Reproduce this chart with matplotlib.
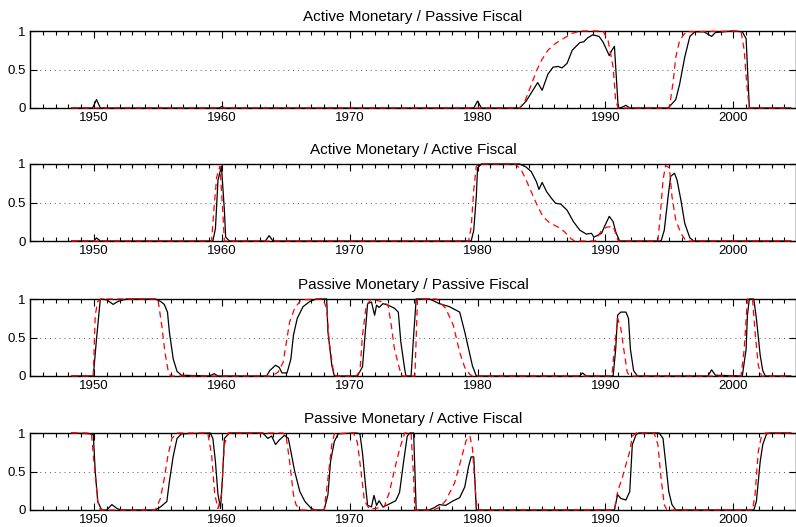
import matplotlib
matplotlib.use('Agg')
import matplotlib.pyplot as plt
from matplotlib.ticker import MultipleLocator

plt.rcParams['font.family'] = ['Liberation Sans', 'DejaVu Sans']

titles = ['Active Monetary / Passive Fiscal',
          'Active Monetary / Active Fiscal',
          'Passive Monetary / Passive Fiscal',
          'Passive Monetary / Active Fiscal']

# (year, probability); black = smoothed, red = filtered
am_pf_smoothed = [(1948.25, 0), (1949.9, 0), (1950.2, 0.11), (1950.5, 0), (1959.8, 0), (1960.0, 0.02),
                  (1960.2, 0), (1979.7, 0), (1980.0, 0.09), (1980.3, 0), (1983.3, 0), (1983.8, 0.09),
                  (1984.7, 0.33), (1985.05, 0.23), (1985.5, 0.44), (1985.9, 0.53), (1986.3, 0.54),
                  (1986.6, 0.52), (1987.0, 0.58), (1987.4, 0.75), (1988.0, 0.85), (1988.3, 0.86),
                  (1988.6, 0.91), (1989.0, 0.95), (1989.5, 0.93), (1989.8, 0.86), (1990.3, 0.68),
                  (1990.5, 0.75), (1990.7, 0.80), (1991.0, 0), (1991.3, 0.01), (1991.6, 0.035),
                  (1991.9, 0), (1994.9, 0), (1995.5, 0.11), (1995.8, 0.31), (1996.2, 0.66),
                  (1996.6, 0.93), (1997.0, 0.99), (1997.7, 0.99), (1998.3, 0.93), (1998.6, 0.98),
                  (1999.9, 1.0), (2000.7, 0.99), (2001.0, 0.90), (2001.25, 0), (2004.5, 0)]
am_pf_filtered = [(1948.25, 0), (1983.3, 0), (1983.7, 0.09), (1984.1, 0.26), (1984.6, 0.48),
                  (1985.0, 0.62), (1985.5, 0.75), (1986.1, 0.84), (1986.7, 0.90), (1987.4, 0.97),
                  (1988.1, 1), (1989.8, 1), (1990.2, 0.88), (1990.6, 0.53), (1990.8, 0.09),
                  (1991.0, 0), (1995.0, 0), (1995.3, 0.35), (1995.5, 0.66), (1995.8, 0.88),
                  (1996.3, 0.99), (2000.6, 1), (2000.85, 0.75), (2001.05, 0.31), (2001.25, 0),
                  (2004.5, 0)]

am_af_smoothed = [(1948.25, 0), (1950.0, 0), (1950.2, 0.04), (1950.5, 0), (1959.3, 0), (1959.5, 0.16),
                  (1959.7, 0.79), (1959.97, 0.97), (1960.2, 0.40), (1960.3, 0.05), (1960.6, 0),
                  (1963.4, 0), (1963.7, 0.07), (1964.0, 0), (1979.5, 0), (1979.7, 0.14), (1979.9, 0.58),
                  (1980.0, 0.95), (1980.3, 1), (1983.3, 1), (1983.8, 0.96), (1984.2, 0.90),
                  (1984.6, 0.77), (1984.8, 0.67), (1985.05, 0.76), (1985.4, 0.64), (1985.8, 0.55),
                  (1986.1, 0.49), (1986.5, 0.48), (1987.0, 0.40), (1987.5, 0.25), (1988.0, 0.14),
                  (1988.5, 0.09), (1988.9, 0.10), (1989.1, 0.05), (1989.7, 0.10), (1989.9, 0.18),
                  (1990.3, 0.32), (1990.6, 0.25), (1990.8, 0.12), (1991.1, 0), (1994.35, 0),
                  (1994.6, 0.14), (1994.9, 0.58), (1995.1, 0.84), (1995.4, 0.88), (1995.6, 0.79),
                  (1995.9, 0.53), (1996.2, 0.23), (1996.6, 0.04), (1996.9, 0), (2004.5, 0)]
am_af_filtered = [(1948.25, 0), (1959.2, 0), (1959.4, 0.45), (1959.6, 0.83), (1959.85, 0.97),
                  (1960.05, 0.45), (1960.2, 0), (1979.3, 0), (1979.5, 0.18), (1979.7, 0.66),
                  (1979.9, 0.97), (1980.1, 1), (1982.9, 1), (1983.4, 0.93), (1983.8, 0.79),
                  (1984.3, 0.60), (1984.7, 0.45), (1985.1, 0.32), (1985.6, 0.24), (1986.3, 0.18),
                  (1986.8, 0.12), (1987.3, 0.03), (1987.6, 0), (1989.2, 0), (1989.3, 0.03),
                  (1989.7, 0.14), (1990.1, 0.18), (1990.6, 0.19), (1990.8, 0.10), (1991.0, 0),
                  (1994.1, 0), (1994.3, 0.36), (1994.5, 0.79), (1994.7, 0.98), (1995.0, 0.95),
                  (1995.2, 0.58), (1995.5, 0.27), (1995.9, 0.10), (1996.3, 0), (2004.5, 0)]

pm_pf_smoothed = [(1948.25, 0), (1949.95, 0), (1950.2, 0.48), (1950.5, 1), (1951.0, 0.99), (1951.5, 0.93),
                  (1951.9, 0.97), (1952.55, 1), (1954.8, 1), (1955.2, 0.97), (1955.5, 0.93),
                  (1955.75, 0.83), (1955.9, 0.57), (1956.2, 0.22), (1956.5, 0.06), (1956.85, 0.01),
                  (1959.0, 0), (1959.4, 0.03), (1959.7, 0), (1963.5, 0), (1963.75, 0.07),
                  (1964.2, 0.14), (1964.5, 0.11), (1964.7, 0.04), (1965.1, 0.04), (1965.4, 0.22),
                  (1965.6, 0.53), (1965.9, 0.75), (1966.35, 0.90), (1966.9, 0.97), (1967.4, 1),
                  (1968.2, 1), (1968.3, 0.57), (1968.6, 0.14), (1968.8, 0), (1970.6, 0),
                  (1971.0, 0.12), (1971.2, 0.53), (1971.4, 0.94), (1971.7, 0.96), (1971.95, 0.79),
                  (1972.1, 0.92), (1972.3, 0.89), (1972.6, 0.94), (1973.0, 0.92), (1973.5, 0.88),
                  (1973.8, 0.83), (1974.0, 0.44), (1974.3, 0.09), (1974.4, 0), (1974.8, 0),
                  (1975.0, 0.53), (1975.2, 1), (1976.25, 1), (1977.0, 0.94), (1977.8, 0.90),
                  (1978.6, 0.83), (1979.0, 0.57), (1979.3, 0.35), (1979.6, 0.13), (1979.9, 0),
                  (1988.0, 0), (1988.2, 0.04), (1988.5, 0), (1990.6, 0), (1990.8, 0.35),
                  (1990.95, 0.79), (1991.2, 0.83), (1991.6, 0.83), (1991.8, 0.75), (1991.95, 0.35),
                  (1992.2, 0.07), (1992.5, 0), (1998.0, 0), (1998.3, 0.08), (1998.6, 0.01),
                  (2000.7, 0), (2001.0, 0.35), (2001.1, 0.79), (2001.25, 1), (2001.6, 1),
                  (2001.8, 0.75), (2002.1, 0.27), (2002.3, 0.07), (2002.5, 0), (2004.5, 0)]
pm_pf_filtered = [(1948.25, 0), (1949.95, 0), (1950.1, 0.79), (1950.3, 0.97), (1950.6, 1), (1955.0, 1),
                  (1955.3, 0.66), (1955.55, 0.31), (1955.8, 0.07), (1956.0, 0), (1963.9, 0),
                  (1964.4, 0.05), (1964.8, 0.18), (1965.05, 0.44), (1965.3, 0.70), (1965.7, 0.88),
                  (1966.2, 0.99), (1967.9, 1), (1968.2, 0.88), (1968.4, 0.44), (1968.7, 0.09),
                  (1968.9, 0), (1970.5, 0), (1970.8, 0.06), (1971.0, 0.53), (1971.3, 0.92),
                  (1971.7, 1), (1972.6, 0.96), (1973.0, 0.92), (1973.25, 0.66), (1973.5, 0.35),
                  (1973.9, 0.09), (1974.1, 0), (1975.1, 0), (1975.3, 1), (1976.8, 1),
                  (1977.5, 0.88), (1978.1, 0.66), (1978.6, 0.31), (1979.0, 0.11), (1979.4, 0.02),
                  (1979.6, 0), (1990.5, 0), (1990.7, 0.35), (1990.95, 0.75), (1991.2, 0.62),
                  (1991.5, 0.27), (1991.7, 0.05), (1991.9, 0), (2000.6, 0), (2000.85, 0.35),
                  (2001.1, 1), (2001.5, 1), (2001.7, 0.57), (2001.95, 0.14), (2002.2, 0), (2004.5, 0)]

pm_af_smoothed = [(1948.25, 1), (1949.7, 0.99), (1949.95, 0.98), (1950.1, 0.5), (1950.3, 0.11),
                  (1950.6, 0), (1951.0, 0), (1951.4, 0.07), (1951.8, 0.02), (1952.1, 0), (1954.8, 0),
                  (1955.2, 0.04), (1955.7, 0.11), (1955.9, 0.37), (1956.2, 0.70), (1956.5, 0.93),
                  (1956.85, 0.99), (1959.1, 1), (1959.3, 0.93), (1959.5, 0.63), (1959.7, 0.20),
                  (1959.9, 0.02), (1960.05, 0.41), (1960.2, 0.93), (1960.6, 1), (1963.2, 1),
                  (1963.6, 0.93), (1963.9, 0.96), (1964.2, 0.85), (1964.5, 0.91), (1964.9, 0.97),
                  (1965.2, 0.93), (1965.4, 0.76), (1965.7, 0.5), (1966.1, 0.24), (1966.5, 0.11),
                  (1967.0, 0.02), (1967.3, 0), (1968.0, 0), (1968.3, 0.2), (1968.5, 0.63),
                  (1968.8, 0.89), (1969.1, 0.99), (1970.5, 1), (1970.8, 0.99), (1971.0, 0.74),
                  (1971.25, 0.3), (1971.4, 0.06), (1971.7, 0.04), (1971.9, 0.19), (1972.1, 0.06),
                  (1972.3, 0.12), (1972.6, 0.04), (1973.0, 0.07), (1973.6, 0.12), (1973.9, 0.23),
                  (1974.2, 0.61), (1974.5, 0.96), (1974.7, 1), (1975.0, 1), (1975.2, 0),
                  (1976.2, 0), (1976.6, 0.03), (1977.0, 0.07), (1977.5, 0.06), (1978.1, 0.12),
                  (1978.6, 0.16), (1979.0, 0.3), (1979.3, 0.57), (1979.5, 0.69), (1979.7, 0.69),
                  (1979.9, 0), (1990.7, 0),
                  (1990.95, 0.2), (1991.2, 0.15), (1991.6, 0.13), (1991.9, 0.24), (1992.1, 0.85),
                  (1992.4, 0.98), (1992.6, 1), (1994.2, 1), (1994.5, 0.93), (1994.7, 0.63),
                  (1994.95, 0.24), (1995.2, 0.07), (1995.5, 0), (2001.6, 0), (2001.8, 0.11),
                  (2002.1, 0.63), (2002.3, 0.85), (2002.6, 0.99), (2002.9, 1), (2004.5, 1)]
pm_af_filtered = [(1948.25, 1), (1949.8, 1), (1950.0, 0.63), (1950.3, 0.11), (1950.5, 0), (1954.8, 0),
                  (1955.2, 0.15), (1955.5, 0.41), (1955.8, 0.72), (1956.1, 0.93), (1956.5, 1),
                  (1958.9, 1), (1959.2, 0.72), (1959.45, 0.2), (1959.7, 0.02), (1959.97, 0.2),
                  (1960.2, 0.85), (1960.5, 1), (1964.8, 1), (1965.05, 0.93), (1965.3, 0.63),
                  (1965.6, 0.2), (1965.8, 0.07), (1966.1, 0), (1968.0, 0), (1968.3, 0.41),
                  (1968.6, 0.85), (1968.8, 0.99), (1970.3, 1), (1970.6, 0.88), (1970.9, 0.48),
                  (1971.15, 0.12), (1971.55, 0.01), (1972.7, 0.04), (1973.1, 0.23), (1973.5, 0.52),
                  (1973.9, 0.79), (1974.3, 1), (1974.8, 1), (1975.0, 0.41), (1975.1, 0),
                  (1976.5, 0), (1977.0, 0.03), (1977.5, 0.12), (1978.2, 0.35), (1978.7, 0.65),
                  (1979.1, 0.9), (1979.4, 0.96), (1979.6, 0.8), (1979.9, 0.1), (1980.0, 0),
                  (1990.7, 0), (1990.95, 0.24), (1991.3, 0.41), (1991.6, 0.59),
                  (1991.9, 0.76), (1992.1, 0.96), (1992.4, 1), (1993.8, 1), (1994.1, 0.85),
                  (1994.35, 0.41), (1994.6, 0.07), (1994.8, 0), (2001.5, 0), (2001.7, 0.2),
                  (2001.95, 0.76), (2002.2, 0.96), (2002.5, 1), (2004.5, 1)]

smoothed = [am_pf_smoothed, am_af_smoothed, pm_pf_smoothed, pm_af_smoothed]
filtered = [am_pf_filtered, am_af_filtered, pm_pf_filtered, pm_af_filtered]

fig = plt.figure(figsize=(7.96, 5.27), dpi=100)
W, H = 796.0, 527.0
tops = [31, 164, 299, 433]
for i in range(4):
    top = tops[i]
    ax = fig.add_axes([30 / W, 1 - (top + 77) / H, 766 / W, 77 / H])
    sx, sy = zip(*smoothed[i])
    fx, fy = zip(*filtered[i])
    ax.plot(sx, sy, color='black', lw=0.9, clip_on=False, zorder=3)
    ax.plot(fx, fy, color='red', lw=0.9, ls=(0, (5, 3.5)), clip_on=False, zorder=4)
    ax.axhline(0.5, color='0.35', lw=0.7, ls=(0, (1, 4)), zorder=1)
    ax.set_xlim(1945, 2004.9)
    ax.set_ylim(0, 1)
    ax.set_yticks([0, 0.5, 1])
    ax.set_yticklabels(['0', '0.5', '1'])
    ax.xaxis.set_major_locator(MultipleLocator(10))
    ax.xaxis.set_minor_locator(MultipleLocator(1))
    ax.tick_params(which='both', direction='in', top=True, right=True, labelsize=9.5, pad=3)
    ax.tick_params(which='major', length=5, width=0.8)
    ax.tick_params(which='minor', length=3, width=0.8)
    for s in ax.spines.values():
        s.set_linewidth(1.0)
    ax.set_title(titles[i], fontsize=11, pad=7)

fig.savefig('out.png', dpi=100)
